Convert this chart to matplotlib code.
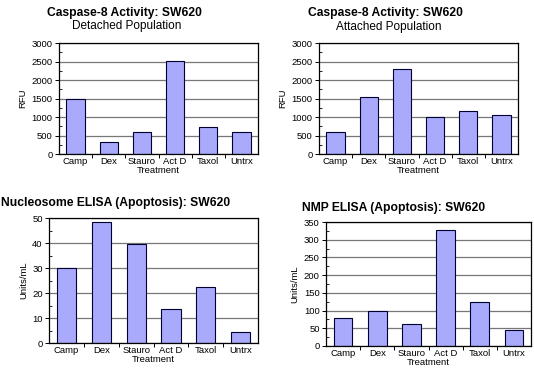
import numpy as np
import matplotlib.pyplot as plt
from matplotlib.ticker import MultipleLocator, FixedLocator, NullFormatter

plt.rcParams["font.family"] = ["Liberation Sans", "DejaVu Sans"]

treatments = ["Camp", "Dex", "Stauro", "Act D", "Taxol", "Untrx"]
detached_rfu = [1500, 320, 590, 2525, 725, 590]
attached_rfu = [590, 1530, 2285, 995, 1155, 1050]
nucleosome_units = [29.9, 48.4, 39.7, 13.8, 22.3, 4.6]
nmp_units = [79, 98, 61, 327, 124, 44]

bar_color = "#aaaafc"

fig = plt.figure(figsize=(5.34, 3.73), dpi=100)


def draw_panel(rect, values, ymax, major, ylabel):
    ax = fig.add_axes(rect)
    x = np.arange(len(treatments))
    ax.bar(x, values, width=0.55, color=bar_color, edgecolor="#000033", linewidth=0.8, zorder=3)
    ax.set_xlim(-0.5, len(treatments) - 0.5)
    ax.set_ylim(0, ymax)
    ax.yaxis.set_major_locator(MultipleLocator(major))
    ax.yaxis.set_minor_locator(MultipleLocator(major / 2))
    ax.grid(axis="y", which="major", color="#777777", linewidth=0.9, zorder=0)
    # category boundaries get the tick marks, names sit between them
    ax.xaxis.set_major_locator(FixedLocator(np.arange(0.5, len(treatments) - 0.5)))
    ax.xaxis.set_major_formatter(NullFormatter())
    ax.xaxis.set_minor_locator(FixedLocator(x))
    ax.set_xticklabels(treatments, minor=True)
    ax.tick_params(axis="x", which="major", direction="out", length=3, width=0.7)
    ax.tick_params(axis="x", which="minor", length=0, labelsize=6.8, pad=2.5)
    ax.tick_params(axis="y", which="major", direction="out", length=3, width=0.7, labelsize=6.8, pad=1.5)
    ax.tick_params(axis="y", which="minor", direction="in", length=2, width=0.6)
    for s in ax.spines.values():
        s.set_linewidth(0.9)
        s.set_zorder(4)
    ax.set_xlabel("Treatment", fontsize=6.8, labelpad=0)
    ax.set_ylabel(ylabel, fontsize=6.8, labelpad=3)
    return ax


draw_panel([0.1105, 0.5871, 0.3727, 0.2976], detached_rfu, 3000, 500, "RFU")
draw_panel([0.5974, 0.5871, 0.3727, 0.2976], attached_rfu, 3000, 500, "RFU")
draw_panel([0.0918, 0.0804, 0.3914, 0.3351], nucleosome_units, 50, 10, "Units/mL")
draw_panel([0.6105, 0.0724, 0.3839, 0.3324], nmp_units, 350, 50, "Units/mL")

fig.text(124 / 534, 1 - 13 / 373, "Caspase-8 Activity: SW620", ha="center", va="center",
         fontsize=8.7, fontweight="bold")
fig.text(127 / 534, 1 - 26 / 373, "Detached Population", ha="center", va="center", fontsize=8.5)
fig.text(385 / 534, 1 - 13 / 373, "Caspase-8 Activity: SW620", ha="center", va="center",
         fontsize=8.7, fontweight="bold")
fig.text(389 / 534, 1 - 27 / 373, "Attached Population", ha="center", va="center", fontsize=8.5)
fig.text(116 / 534, 1 - 203 / 373, "Nucleosome ELISA (Apoptosis): SW620", ha="center", va="center",
         fontsize=8.7, fontweight="bold")
fig.text(394 / 534, 1 - 208 / 373, "NMP ELISA (Apoptosis): SW620", ha="center", va="center",
         fontsize=8.7, fontweight="bold")

fig.savefig("out.png", dpi=100)
